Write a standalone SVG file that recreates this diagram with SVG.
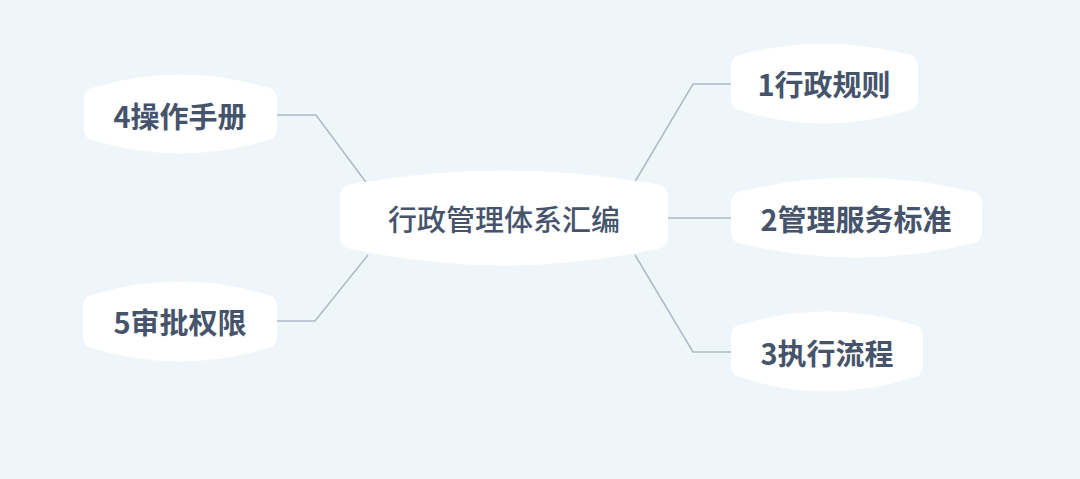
<svg xmlns="http://www.w3.org/2000/svg" width="1080" height="479" viewBox="0 0 1080 479">
<style>
.bg{fill:#eff6f9}
.node{fill:#ffffff}
.t{font-family:"Noto Sans CJK SC","Noto Sans",sans-serif;font-size:29px;fill:#46546b;text-anchor:middle;dominant-baseline:central}
.b{font-weight:700}
.m{font-weight:500}
.c{fill:none;stroke:#adb9c8;stroke-width:1.5}
</style>
<rect class="bg" width="1080" height="479"/>
<g id="connectors">
<polyline class="c" points="277,115 316,115 368,185"/>
<polyline class="c" points="277,321 315,321 368,255"/>
<polyline class="c" points="731,84 693,84 633,185"/>
<line class="c" x1="660" y1="218" x2="731" y2="218"/>
<polyline class="c" points="731,352 693,352 635,255"/>
</g>
<g id="center">
<path class="node" d="M340,197 Q340,185 352,184 Q504,157 656,184 Q668,185 668,197 L668,236 Q668,248 656,249 Q504,282 352,249 Q340,248 340,236 Z"/>
<text class="t m" x="504" y="218">行政管理体系汇编</text>
</g>
<g id="n4">
<path class="node" d="M84,100 Q84,88 96,87 Q180,62 265,87 Q277,88 277,100 L277,128 Q277,140 265,141 Q180,166 96,141 Q84,140 84,128 Z"/>
<text class="t b" x="180" y="115">4操作手册</text>
</g>
<g id="n5">
<path class="node" d="M83,307 Q83,295 95,294 Q180,269 265,294 Q277,295 277,307 L277,336 Q277,348 265,349 Q180,374 95,349 Q83,348 83,336 Z"/>
<text class="t b" x="180" y="321">5审批权限</text>
</g>
<g id="n1">
<path class="node" d="M731,67 Q731,55 743,54 Q824,33 906,54 Q918,55 918,67 L918,98 Q918,110 906,111 Q824,136 743,111 Q731,110 731,98 Z"/>
<text class="t b" x="824" y="83">1行政规则</text>
</g>
<g id="n2">
<path class="node" d="M731,204 Q731,192 743,191 Q856,164 970,191 Q982,192 982,204 L982,231 Q982,243 970,244 Q856,271 743,244 Q731,243 731,231 Z"/>
<text class="t b" x="856" y="218">2管理服务标准</text>
</g>
<g id="n3">
<path class="node" d="M731,337 Q731,325 743,324 Q827,299 911,324 Q923,325 923,337 L923,365 Q923,377 911,378 Q827,405 743,378 Q731,377 731,365 Z"/>
<text class="t b" x="827" y="352">3执行流程</text>
</g>
</svg>
